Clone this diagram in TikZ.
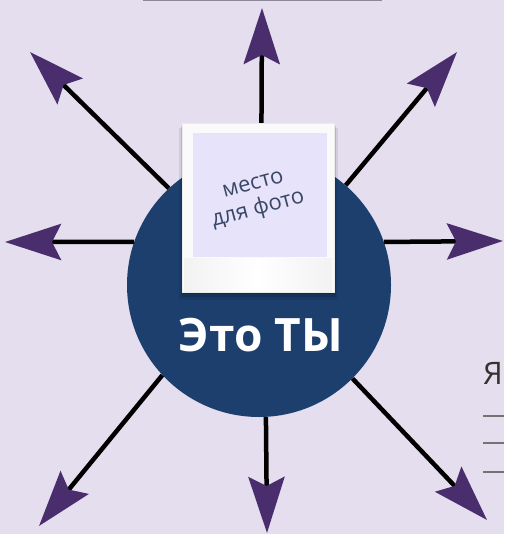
\documentclass[tikz,border=0pt]{standalone}
\usepackage{fontspec}
\setmainfont{Open Sans}
\usetikzlibrary{arrows.meta}
\definecolor{bgcol}{HTML}{E5DEEE}
\definecolor{hubcol}{HTML}{1C3F6E}
\definecolor{headcol}{HTML}{4A2D6C}
\definecolor{photocol}{HTML}{E6E3FA}
\definecolor{phtext}{HTML}{3B4766}
\definecolor{rulegray}{HTML}{8C8794}
\tikzset{
  ray/.style={line width=4.5pt, black,
    -{Stealth[length=56pt,width=36pt,inset=9pt,color=headcol,fill=headcol]}},
  hubstyle/.style={circle, fill=hubcol, minimum size=264pt, inner sep=0pt},
  rule/.style={rulegray, line width=1.3pt},
  phlab/.style={phtext, font=\fontsize{22}{22}\selectfont, rotate=15, inner sep=0pt}
}
\begin{document}
\begin{tikzpicture}[x=1pt,y=-1pt]
\useasboundingbox (0,0) rectangle (504,534);
\fill[bgcol] (0,0) rectangle (504,534);
% top rule
\coordinate (tl) at (143,0.7);
\coordinate (tr) at (382,0.7);
\draw[rule] (tl) -- (tr);
% hub
\node[hubstyle] (hub) at (259,285) {};
% tips
\coordinate (tNW) at (30,52);
\coordinate (tN) at (262,8);
\coordinate (tNE) at (457,52);
\coordinate (tW) at (5,242);
\coordinate (tE) at (503,241);
\coordinate (tSW) at (39,526);
\coordinate (tS) at (267,533);
\coordinate (tSE) at (487,520);
\draw[ray] (hub.133) -- (tNW);
\draw[ray] (hub.89) -- (tN);
\draw[ray] (hub.49) -- (tNE);
\draw[ray] (hub.161) -- (tW);
\draw[ray] (hub.19) -- (tE);
\draw[ray] (hub.223) -- (tSW);
\draw[ray] (hub.273) -- (tS);
\draw[ray] (hub.315) -- (tSE);
% polaroid shadow
\fill[black, opacity=0.08] (179,128) rectangle (338,300);
\fill[black, opacity=0.12] (181,126) rectangle (336,297);
\fill[black, opacity=0.15] (182,125) rectangle (335,294);
% polaroid frame
\node[draw=white!85!gray, line width=0.6pt, fill=white!96!gray, minimum width=152pt, minimum height=169pt, inner sep=0pt] (frame) at (258,207.5) {};
\shade[left color=white!90!gray, right color=white!90!gray, middle color=white] (184,258) rectangle (332,291);
\node[fill=photocol, minimum width=134pt, minimum height=124pt, inner sep=0pt] (photo) at (260,195) {};
\node[phlab] (ph1) at (253,184) {место};
\node[phlab] (ph2) at (258,209) {для фото};
% main label
\node[white, font=\fontsize{46}{46}\selectfont\bfseries, inner sep=0pt] (me) at (261,335) {Это ТЫ};
% right side partial text
\node[anchor=west, text=black!80, font=\fontsize{31}{31}\selectfont, inner sep=0pt] (ya) at (483,373) {Я};
\coordinate (l1a) at (483,416); \coordinate (l1b) at (504,416);
\coordinate (l2a) at (483,443); \coordinate (l2b) at (504,443);
\coordinate (l3a) at (483,472); \coordinate (l3b) at (504,472);
\draw[rule, black!55] (l1a) -- (l1b);
\draw[rule, black!55] (l2a) -- (l2b);
\draw[rule, black!55] (l3a) -- (l3b);
\end{tikzpicture}
\end{document}
